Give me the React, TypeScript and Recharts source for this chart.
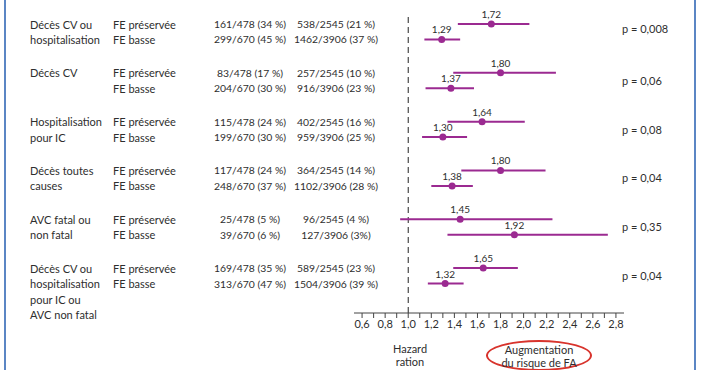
import {
  ErrorBar,
  LabelList,
  ReferenceLine,
  Scatter,
  ScatterChart,
  XAxis,
  YAxis,
} from "recharts";

const FONT = "Lato, 'Open Sans', sans-serif";
const PURPLE = "#9b2a91";
const TEXT = "#2e2e2e";

const outcomes = [
  ["Décès CV ou", "hospitalisation"],
  ["Décès CV"],
  ["Hospitalisation", "pour IC"],
  ["Décès toutes", "causes"],
  ["AVC fatal ou", "non fatal"],
  ["Décès CV ou", "hospitalisation", "pour IC ou", "AVC non fatal"],
];
const subgroups = ["FE préservée", "FE basse"];

// one entry per outcome: [FE préservée, FE basse]
const withFA = [
  ["161/478 (34 %)", "299/670 (45 %)"],
  ["83/478 (17 %)", "204/670 (30 %)"],
  ["115/478 (24 %)", "199/670 (30 %)"],
  ["117/478 (24 %)", "248/670 (37 %)"],
  ["25/478 (5 %)", "39/670 (6 %)"],
  ["169/478 (35 %)", "313/670 (47 %)"],
];
const withoutFA = [
  ["538/2545 (21 %)", "1462/3906 (37 %)"],
  ["257/2545 (10 %)", "916/3906 (23 %)"],
  ["402/2545 (16 %)", "959/3906 (25 %)"],
  ["364/2545 (14 %)", "1102/3906 (28 %)"],
  ["96/2545 (4 %)", "127/3906 (3%)"],
  ["589/2545 (23 %)", "1504/3906 (39 %)"],
];
const hr = [
  [1.72, 1.29],
  [1.8, 1.37],
  [1.64, 1.3],
  [1.8, 1.38],
  [1.45, 1.92],
  [1.65, 1.32],
];
const ciLow = [
  [1.43, 1.14],
  [1.39, 1.15],
  [1.34, 1.12],
  [1.46, 1.2],
  [0.93, 1.34],
  [1.39, 1.17],
];
const ciHigh = [
  [2.05, 1.45],
  [2.28, 1.57],
  [2.01, 1.51],
  [2.19, 1.56],
  [2.25, 2.73],
  [1.95, 1.48],
];
const pValues = ["p = 0,008", "p = 0,06", "p = 0,08", "p = 0,04", "p = 0,35", "p = 0,04"];

const xTicks = [0.6, 0.7, 0.8, 0.9, 1.0, 1.1, 1.2, 1.3, 1.4, 1.5, 1.6, 1.7, 1.8, 1.9, 2.0, 2.1, 2.2, 2.3, 2.4, 2.5, 2.6, 2.7, 2.8];
const xLabels = ["0,6", "0,8", "1,0", "1,2", "1,4", "1,6", "1,8", "2,0", "2,2", "2,4", "2,6", "2,8"];

const GROUP_STEP = 3.15;

const rows = outcomes.flatMap((_, g) =>
  subgroups.map((_, s) => ({
    g,
    s,
    y: g * GROUP_STEP + s,
    hr: hr[g][s],
    err: [hr[g][s] - ciLow[g][s], ciHigh[g][s] - hr[g][s]],
  }))
);

const fmt = (v: number) => v.toFixed(2).replace(".", ",");

function RowTick(props: any) {
  const { y, payload } = props;
  const row = rows.find((r) => Math.abs(r.y - payload.value) < 0.01);
  if (!row) return null;
  const common = { fontFamily: FONT, fontSize: 11, fill: TEXT, dominantBaseline: "central" as const };
  const nums = { ...common, fontSize: 10.4 };
  return (
    <g>
      {row.s === 0 &&
        outcomes[row.g].map((line, i) => (
          <text key={i} x={30} y={y + i * 15.5} {...common}>
            {line}
          </text>
        ))}
      <text x={113} y={y} {...common}>
        {subgroups[row.s]}
      </text>
      <text x={250} y={y} textAnchor="middle" {...nums}>
        {withFA[row.g][row.s]}
      </text>
      <text x={336} y={y} textAnchor="middle" {...nums}>
        {withoutFA[row.g][row.s]}
      </text>
      {row.s === 0 && (
        <text x={622} y={y + (row.g === 0 ? 4 : 7.5)} {...common}>
          {pValues[row.g]}
        </text>
      )}
    </g>
  );
}

export default function App() {
  return (
    <div style={{ position: "absolute", left: 0, top: 0, width: 702, height: 370, background: "#fff" }}>
      <ScatterChart width={702} height={370} margin={{ top: 13, right: 78, left: 0, bottom: 27 }}>
        <XAxis
          type="number"
          dataKey="hr"
          domain={[0.53, 2.87]}
          allowDataOverflow
          ticks={xTicks}
          interval={0}
          tickSize={5}
          height={30}
          stroke="#444"
          tick={{ fontFamily: FONT, fontSize: 11, fill: TEXT }}
          tickFormatter={(v: number) => {
            const s = v.toFixed(1).replace(".", ",");
            return xLabels.includes(s) ? s : "";
          }}
        />
        <YAxis
          type="number"
          dataKey="y"
          domain={[-0.71, 18.65]}
          reversed
          allowDataOverflow
          ticks={rows.map((r) => r.y)}
          interval={0}
          width={354}
          axisLine={false}
          tickLine={false}
          tick={<RowTick />}
        />
        <ReferenceLine x={1} stroke="#222" strokeDasharray="6 4" />
        <Scatter
          data={rows}
          isAnimationActive={false}
          shape={(p: any) => <circle cx={p.cx} cy={p.cy} r={3.5} fill={PURPLE} />}
        >
          <ErrorBar
            dataKey="err"
            direction="x"
            width={0}
            stroke={PURPLE}
            strokeWidth={2}
            isAnimationActive={false}
          />
          <LabelList
            dataKey="hr"
            position="top"
            offset={1.5}
            formatter={(v: any) => fmt(Number(v))}
            style={{ fontFamily: FONT, fontSize: 10, fill: TEXT }}
          />
        </Scatter>
      </ScatterChart>
      <div style={{ position: "absolute", left: 4, top: 0, width: 2, height: 370, background: "#5b86c4" }} />
      <div style={{ position: "absolute", left: 694, top: 0, width: 2, height: 370, background: "#5b86c4" }} />
      <div
        style={{
          position: "absolute",
          left: 360,
          top: 342,
          width: 100,
          textAlign: "center",
          fontFamily: FONT,
          fontSize: 11,
          lineHeight: "13px",
          color: TEXT,
        }}
      >
        Hazard
        <br />
        ration
      </div>
      <div
        style={{
          position: "absolute",
          left: 486,
          top: 340,
          width: 102,
          height: 27,
          border: "2px solid #d8332c",
          borderRadius: "50%",
        }}
      />
      <div
        style={{
          position: "absolute",
          left: 480,
          top: 343,
          width: 118,
          textAlign: "center",
          fontFamily: FONT,
          fontSize: 11,
          lineHeight: "13px",
          color: TEXT,
        }}
      >
        Augmentation
        <br />
        du risque de FA
      </div>
    </div>
  );
}
